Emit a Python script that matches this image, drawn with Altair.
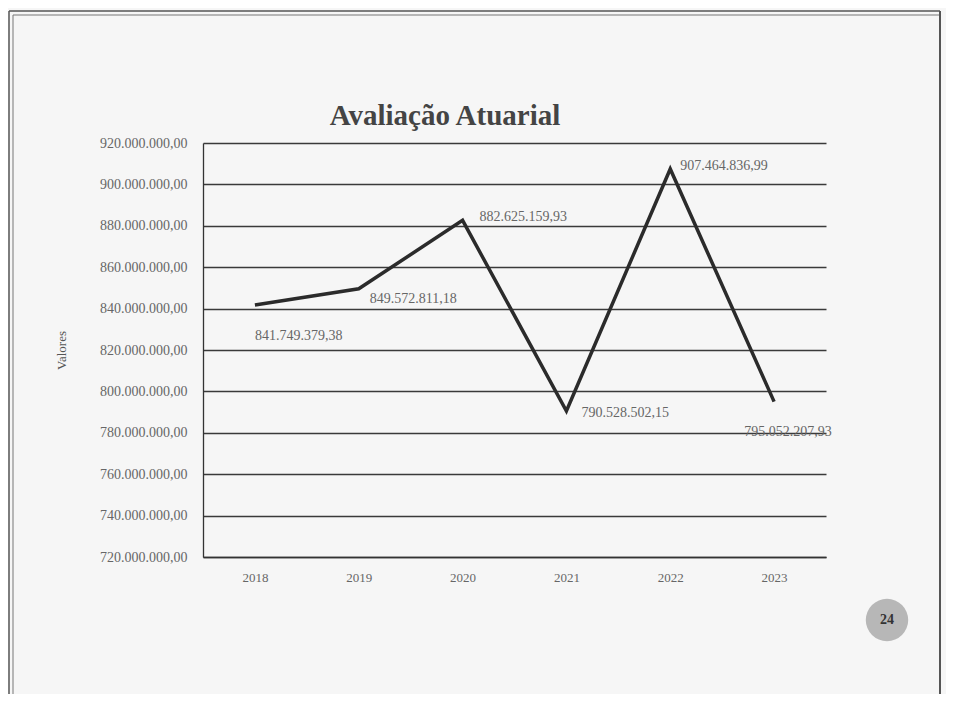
import altair as alt
import pandas as pd

anos = ["2018", "2019", "2020", "2021", "2022", "2023"]
valores = [841749379.38, 849572811.18, 882625159.93, 790528502.15, 907464836.99, 795052207.93]
y_ticks = [720e6, 740e6, 760e6, 780e6, 800e6, 820e6, 840e6, 860e6, 880e6, 900e6, 920e6]
titulo = "Avaliação Atuarial"
pagina = "24"

df = pd.DataFrame({"ano": anos, "valor": valores})

FONT = "Liberation Serif"
INK = "#333333"
TXT = "#666666"

x_enc = alt.X("ano:N", scale=alt.Scale(type="point", padding=0.5), sort=anos,
              axis=alt.Axis(title=None, labelAngle=0, ticks=False, grid=False,
                            labelPadding=14, labelFontSize=13, labelColor=TXT,
                            labelFont=FONT, domainColor=INK, domainWidth=1.3))
y_enc = alt.Y("valor:Q", scale=alt.Scale(domain=[720e6, 920e6], nice=False, zero=False),
              axis=alt.Axis(title="Valores", values=y_ticks, format=",.2f", ticks=False,
                            grid=True, gridColor="#3a3a3a", gridWidth=1.3,
                            labelPadding=16, labelFontSize=14, labelColor=TXT,
                            labelFont=FONT, titleFont=FONT, titleFontSize=13,
                            titleFontWeight="normal", titleColor="#555", titlePadding=31,
                            domainColor=INK, domainWidth=1.3))

base = alt.Chart(df)

line = base.mark_line(color="#2b2b2b", strokeWidth=3.5).encode(x=x_enc, y=y_enc)

# per-point label placement (as in the original spreadsheet chart)
offsets = {
    "2018": dict(align="left", dx=0, dy=31),
    "2019": dict(align="left", dx=11, dy=10),
    "2020": dict(align="left", dx=17, dy=-3),
    "2021": dict(align="left", dx=15, dy=2),
    "2022": dict(align="left", dx=10, dy=-3),
    "2023": dict(align="center", dx=14, dy=30),
}

labels = []
for ano, o in offsets.items():
    labels.append(
        base.transform_filter(alt.datum.ano == ano)
        .mark_text(font=FONT, fontSize=14, color=TXT, baseline="middle", **o)
        .encode(x=alt.X("ano:N", sort=anos), y="valor:Q",
                text=alt.Text("valor:Q", format=",.2f"))
    )

one = alt.Chart(pd.DataFrame({"t": [titulo], "p": [pagina]}))

title_mark = one.mark_text(font=FONT, fontSize=29, fontWeight="bold", color="#444444",
                           align="center", baseline="alphabetic").encode(
    x=alt.value(242), y=alt.value(-18), text="t:N")

circle = one.mark_circle(size=1800, color="#b0b0b0", opacity=0.9).encode(
    x=alt.value(684), y=alt.value(477))
circle_txt = one.mark_text(font=FONT, fontSize=14, fontWeight="bold", color="#333").encode(
    x=alt.value(684), y=alt.value(477), text="p:N")

# slide frame (double border lines of the printed page)
frame = [
    one.mark_rule(color="#555", strokeWidth=1.5).encode(
        x=alt.value(-194), y=alt.value(-132), y2=alt.value(559)),
    one.mark_rule(color="#777", strokeWidth=1).encode(
        x=alt.value(-190), y=alt.value(-128), y2=alt.value(559)),
    one.mark_rule(color="#555", strokeWidth=1.5).encode(
        x=alt.value(-194), x2=alt.value(737), y=alt.value(-132)),
    one.mark_rule(color="#777", strokeWidth=1).encode(
        x=alt.value(-190), x2=alt.value(737), y=alt.value(-128)),
    one.mark_rule(color="#555", strokeWidth=2).encode(
        x=alt.value(737), y=alt.value(-132), y2=alt.value(559)),
    one.mark_rule(color="#999", strokeWidth=1).encode(
        x=alt.value(745), y=alt.value(-132), y2=alt.value(559)),
]

chart = alt.layer(line, *labels, title_mark, circle, circle_txt, *frame).properties(
    width=623, height=414,
    background="#f6f6f6",
    autosize=alt.AutoSizeParams(type="none"),
    padding={"left": 195, "top": 135, "right": 120, "bottom": 137},
).configure(
    locale=alt.Locale(number=alt.NumberLocale(decimal=",", thousands=".", grouping=[3],
                                              currency=["R$", ""]))
).configure_view(stroke="transparent", strokeWidth=0)

chart.save("out.html", embed_options={"renderer": "svg", "actions": False})
